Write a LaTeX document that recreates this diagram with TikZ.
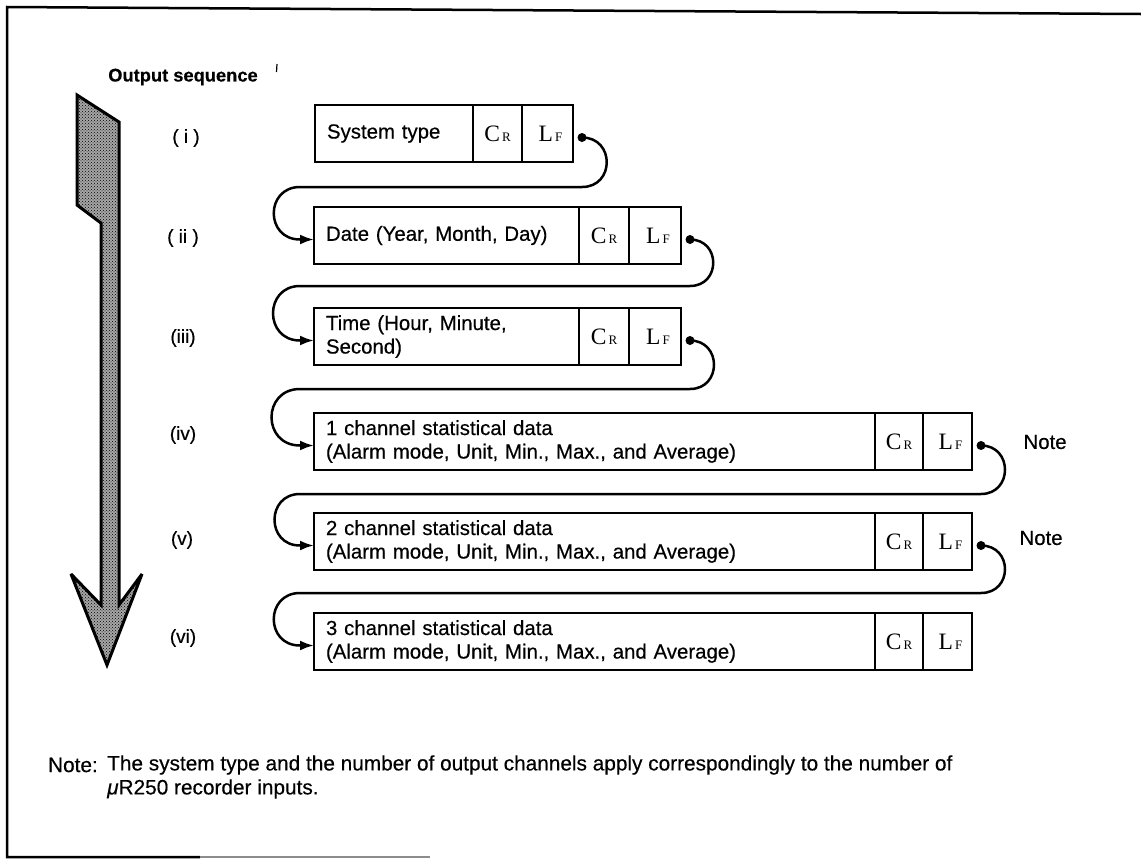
\documentclass[tikz,border=0pt]{standalone}
\usepackage{fontspec}
\setmainfont{Liberation Sans}[FakeBold=0.4]
\newfontfamily\crfont{Liberation Serif}
\usetikzlibrary{arrows.meta,calc,patterns}

\tikzset{
  frame/.style={line width=2.5pt},
  cell/.style={draw, line width=2.5pt, anchor=north west, minimum height=57pt,
               inner sep=0pt, outer sep=0pt},
  txtcell/.style={cell, align=left, inner xsep=12pt,
                  font=\fontsize{20.4}{23.5}\selectfont},
  dot/.style={circle, fill, inner sep=0pt, minimum size=9pt},
  conn/.style={line width=2.5pt, -{Latex[length=14pt,width=10pt]}},
  seqlbl/.style={font=\fontsize{19}{22}\selectfont},
  notelbl/.style={font=\fontsize{20.4}{24}\selectfont, anchor=west},
  bigarrow/.style={line width=3pt, line join=miter, miter limit=4,
                   preaction={fill=black!35}, pattern=crosshatch dots,
                   pattern color=black},
}
% control character with its small subscript-style letter
\newcommand{\ctlchar}[2]{{\crfont\fontsize{23.5}{23.5}\selectfont #1\hspace{2pt}{\fontsize{13}{13}\selectfont #2}}}

\begin{document}
\begin{tikzpicture}[x=1pt,y=-1pt]
\useasboundingbox (0,0) rectangle (1141,860);

% page frame
\draw[frame] (1141,14) -- (7,7) -- (7,857) -- (200,857);
\draw[frame, black!45] (200,857) -- (430,857);

% title
\node[font=\bfseries\fontsize{18.3}{22}\selectfont] (title) at (183,77) {Output sequence};
\draw[line width=1.2pt] (277,64) -- (276.5,72);

% sequence arrow
\draw[bigarrow] (77,95) -- (119,122) -- (119,605) -- (142,574) -- (107,665)
   -- (71,574) -- (101,605) -- (101,223) -- (77,205) -- cycle;

% sequence labels
\node[seqlbl] (s1) at (186,138) {( i )};
\node[seqlbl] (s2) at (183,238) {( ii )};
\node[seqlbl] (s3) at (183,338) {(iii)};
\node[seqlbl] (s4) at (183,435) {(iv)};
\node[seqlbl] (s5) at (182,540) {(v)};
\node[seqlbl] (s6) at (183,638) {(vi)};

% row (i)
\node[txtcell, text width=134pt] (m1) at (315,105) {System type};
\node[cell, minimum width=49pt] (c1) at (m1.north east) {\ctlchar{C}{R}};
\node[cell, minimum width=51pt] (l1) at (c1.north east) {\hspace{6pt}\ctlchar{L}{F}};

% row (ii)
\node[txtcell, text width=241pt] (m2) at (314,207) {Date (Year, Month, Day)};
\node[cell, minimum width=50pt] (c2) at (m2.north east) {\ctlchar{C}{R}};
\node[cell, minimum width=52pt] (l2) at (c2.north east) {\hspace{6pt}\ctlchar{L}{F}};

% row (iii)
\node[txtcell, text width=241pt] (m3) at (314,308) {Time (Hour, Minute,\\Second)};
\node[cell, minimum width=50pt] (c3) at (m3.north east) {\ctlchar{C}{R}};
\node[cell, minimum width=52pt] (l3) at (c3.north east) {\hspace{6pt}\ctlchar{L}{F}};

% rows (iv)-(vi)
\node[txtcell, text width=537pt] (m4) at (314,413) {1 channel statistical data\\(Alarm mode, Unit, Min., Max., and Average)};
\node[cell, minimum width=48pt] (c4) at (m4.north east) {\ctlchar{C}{R}};
\node[cell, minimum width=49pt] (l4) at (c4.north east) {\hspace{6pt}\ctlchar{L}{F}};

\node[txtcell, text width=537pt] (m5) at (314,513) {2 channel statistical data\\(Alarm mode, Unit, Min., Max., and Average)};
\node[cell, minimum width=48pt] (c5) at (m5.north east) {\ctlchar{C}{R}};
\node[cell, minimum width=49pt] (l5) at (c5.north east) {\hspace{6pt}\ctlchar{L}{F}};

\node[txtcell, text width=537pt] (m6) at (314,613) {3 channel statistical data\\(Alarm mode, Unit, Min., Max., and Average)};
\node[cell, minimum width=48pt] (c6) at (m6.north east) {\ctlchar{C}{R}};
\node[cell, minimum width=49pt] (l6) at (c6.north east) {\hspace{6pt}\ctlchar{L}{F}};

% start dots of the links
\foreach \i in {1,...,5} \node[dot] (d\i) at ($(l\i.east)+(9,4)$) {};

% turn levels and entry levels of the links
\coordinate (ax) at (300,0);
\coordinate (h1) at (0,187);  \coordinate (a2) at (0,239.5);
\coordinate (h2) at (0,286);  \coordinate (a3) at (0,340.5);
\coordinate (h3) at (0,389);  \coordinate (a4) at (0,445.5);
\coordinate (h4) at (0,494);  \coordinate (a5) at (0,545.5);
\coordinate (h5) at (0,593);  \coordinate (a6) at (0,645.5);

\draw[conn] (d1.center) .. controls +(33,0) and +(33,0) .. (d1.center |- h1)
  -- (ax |- h1) .. controls +(-35,0) and +(-35,0) .. (ax |- a2) -- (m2.west |- a2);
\draw[conn] (d2.center) .. controls +(31,0) and +(31,0) .. (d2.center |- h2)
  -- (ax |- h2) .. controls +(-36,0) and +(-36,0) .. (ax |- a3) -- (m3.west |- a3);
\draw[conn] (d3.center) .. controls +(32,0) and +(32,0) .. (d3.center |- h3)
  -- (ax |- h3) .. controls +(-38,0) and +(-38,0) .. (ax |- a4) -- (m4.west |- a4);
\draw[conn] (d4.center) .. controls +(32,0) and +(32,0) .. (d4.center |- h4)
  -- (ax |- h4) .. controls +(-34,0) and +(-34,0) .. (ax |- a5) -- (m5.west |- a5);
\draw[conn] (d5.center) .. controls +(32,0) and +(32,0) .. (d5.center |- h5)
  -- (ax |- h5) .. controls +(-35,0) and +(-35,0) .. (ax |- a6) -- (m6.west |- a6);

% note markers
\node[notelbl] (n1) at (1020,442) {Note};
\node[notelbl] (n2) at (1016,538) {Note};

% footnote
\node[anchor=east, inner sep=0pt, font=\fontsize{20.8}{24}\selectfont] (fnk) at (98,765) {Note:};
\node[anchor=west, align=left, inner sep=0pt, font=\fontsize{20.8}{24}\selectfont]
  (fnt) at (107,777) {The system type and the number of output channels apply correspondingly to the number of\\{\itshape μ}R250 recorder inputs.};

\end{tikzpicture}
\end{document}
